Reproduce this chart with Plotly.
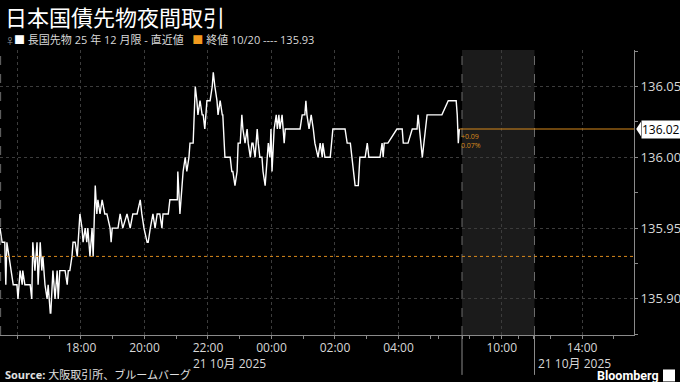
import pandas as pd
import plotly.graph_objects as go

# ---------------- data ----------------
title = "日本国債先物夜間取引"
series_label = "長国先物 25 年 12 月限 - 直近値"
prev_close_label = "終値 10/20 ---- 135.93"
prev_close = 135.93
session_start = "2025-10-20 15:27"

minutes = [0, 4, 9, 11, 13, 17, 25, 32, 34, 38, 42, 43, 47, 57, 60, 62, 66, 70, 72, 76,
           79, 81, 85, 89, 91, 95, 96, 100, 104, 108, 110, 113, 123, 127, 129, 132, 136, 138, 142, 146,
           151, 155, 157, 161, 164, 166, 170, 174, 176, 180, 183, 185, 189, 193, 198, 202, 208, 210, 212, 223,
           227, 232, 240, 246, 251, 259, 265, 268, 272, 278, 280, 284, 289, 293, 297, 302, 306, 308, 318, 321,
           331, 335, 336, 340, 344, 346, 350, 353, 357, 359, 365, 369, 372, 374, 378, 382, 384, 387, 391, 397,
           401, 403, 406, 410, 412, 416, 420, 421, 425, 431, 435, 438, 440, 444, 448, 450, 454, 457, 459, 463,
           467, 469, 473, 476, 478, 482, 486, 488, 491, 495, 497, 501, 507, 510, 512, 514, 518, 522, 524, 527,
           529, 533, 535, 537, 539, 567, 571, 576, 578, 580, 584, 588, 592, 595, 601, 605, 609, 610, 614, 624,
           629, 652, 656, 662, 671, 677, 680, 686, 690, 694, 697, 718, 722, 724, 726, 733, 750, 760, 762, 771,
           779, 788, 790, 798, 807, 835, 847, 862, 864, 866, 868]

prices = [135.95, 135.94, 135.94, 135.91, 135.94, 135.93, 135.91, 135.91, 135.90, 135.92,
          135.91, 135.92, 135.91, 135.91, 135.90, 135.94, 135.92, 135.94, 135.91, 135.94,
          135.92, 135.93, 135.91, 135.90, 135.91, 135.89, 135.89, 135.92, 135.90, 135.92,
          135.90, 135.92, 135.92, 135.91, 135.92, 135.92, 135.93, 135.94, 135.94, 135.93,
          135.96, 135.95, 135.94, 135.95, 135.94, 135.95, 135.93, 135.95, 135.93, 135.98,
          135.96, 135.97, 135.96, 135.97, 135.96, 135.96, 135.95, 135.94, 135.95, 135.95,
          135.96, 135.95, 135.96, 135.95, 135.96, 135.96, 135.97, 135.96, 135.95, 135.94,
          135.94, 135.95, 135.96, 135.95, 135.96, 135.96, 135.95, 135.96, 135.96, 135.97,
          135.97, 135.97, 135.99, 135.96, 135.98, 135.99, 136.00, 135.99, 136.00, 136.01,
          136.01, 136.05, 136.04, 136.03, 136.04, 136.03, 136.03, 136.02, 136.04, 136.04,
          136.05, 136.06, 136.05, 136.04, 136.03, 136.04, 136.03, 136.03, 136.00, 136.00,
          136.00, 135.99, 135.99, 135.98, 135.99, 136.01, 136.01, 136.03, 136.02, 136.01,
          136.02, 136.01, 136.00, 136.01, 136.01, 136.00, 136.02, 136.01, 136.00, 136.00,
          135.99, 135.98, 136.01, 136.00, 136.02, 135.99, 136.02, 136.03, 136.02, 136.03,
          136.02, 136.03, 136.02, 136.01, 136.02, 136.02, 136.03, 136.03, 136.04, 136.03,
          136.02, 136.03, 136.02, 136.01, 136.00, 136.01, 136.00, 136.01, 136.00, 136.00,
          136.02, 136.02, 136.01, 136.01, 135.98, 135.98, 136.00, 136.00, 136.00, 136.01,
          136.00, 136.00, 136.01, 136.00, 136.01, 136.01, 136.02, 136.02, 136.01, 136.01,
          136.02, 136.02, 136.03, 136.00, 136.03, 136.03, 136.04, 136.04, 136.03, 136.01,
          136.02]

tick_times = ["2025-10-20 16:00", "2025-10-20 18:00", "2025-10-20 20:00", "2025-10-20 22:00",
              "2025-10-21 00:00", "2025-10-21 02:00", "2025-10-21 04:00",
              "2025-10-21 10:00", "2025-10-21 14:00"]
tick_labels = ["", "18:00", "20:00", "22:00", "00:00", "02:00", "04:00", "10:00", "14:00"]
date_label = "21 10月 2025"
y_ticks = [135.90, 135.95, 136.00, 136.05]
x_range = ["2025-10-20 15:27", "2025-10-21 15:38"]
y_range = [135.8745, 136.0758]
night_end = "2025-10-21 06:00"
day_start = "2025-10-21 08:45"
morning_end = "2025-10-21 11:02"
afternoon_start = "2025-10-21 12:30"
source_text = "<b>Source:</b> 大阪取引所、ブルームバーグ"

# ---------------- figure ----------------
BG = "#000000"
ORANGE = "#d8891c"
GRID = "#3c3c3c"
AXIS = "#8a8a8a"
TXT = "#d8d8d8"
FONT = "Open Sans, Noto Sans CJK JP, sans-serif"

times = pd.Timestamp(session_start) + pd.to_timedelta(minutes, unit="min")
last_val = prices[-1]
chg = last_val - prev_close
pct = chg / prev_close * 100

fig = go.Figure()

# shaded morning session
fig.add_shape(type="rect", xref="x", yref="paper", x0=day_start, x1=morning_end, y0=0, y1=1,
              fillcolor="#1b1b1b", line_width=0, layer="below")
for xv in [day_start, morning_end]:
    fig.add_shape(type="line", xref="x", yref="paper", x0=xv, x1=xv, y0=0, y1=1,
                  line=dict(color="#6a6a6a", width=1, dash="dash"), layer="below")
    fig.add_shape(type="line", xref="x", yref="paper", x0=xv, x1=xv, y0=0, y1=-0.14,
                  line=dict(color=AXIS, width=1))
# left dashed border
fig.add_shape(type="line", xref="paper", yref="paper", x0=0.001, x1=0.001, y0=0, y1=1,
              line=dict(color="#6a6a6a", width=1, dash="dash"))

# previous close dotted line
fig.add_shape(type="line", xref="paper", yref="y", x0=0, x1=1, y0=prev_close, y1=prev_close,
              line=dict(color=ORANGE, width=1, dash="dot"))

# price line
fig.add_trace(go.Scatter(x=times, y=prices, mode="lines",
                         line=dict(color="#ffffff", width=1.4), hoverinfo="skip"))
# last value line
fig.add_trace(go.Scatter(x=[times[-1], pd.Timestamp(x_range[1])], y=[last_val, last_val],
                         mode="lines", line=dict(color=ORANGE, width=1.2), hoverinfo="skip"))

fig.update_layout(
    width=680, height=382,
    margin=dict(l=0, r=46, t=50, b=47),
    paper_bgcolor=BG, plot_bgcolor=BG,
    showlegend=False,
    font=dict(family=FONT, color=TXT),
    xaxis=dict(
        type="date", range=x_range,
        rangebreaks=[dict(values=[night_end], dvalue=(pd.Timestamp(day_start) - pd.Timestamp(night_end)).total_seconds() * 1000),
                     dict(values=[morning_end], dvalue=(pd.Timestamp(afternoon_start) - pd.Timestamp(morning_end)).total_seconds() * 1000)],
        tickmode="array", tickvals=tick_times, ticktext=tick_labels,
        showgrid=True, gridcolor=GRID, griddash="dot", gridwidth=1,
        showline=True, linecolor=AXIS, linewidth=1,
        ticks="outside", ticklen=2, tickcolor=AXIS,
        minor=dict(ticks="outside", ticklen=3, tickcolor=AXIS, dtick=3600000,
                   tick0="2025-10-20 00:00", showgrid=False),
        tickfont=dict(size=12, color=TXT, family=FONT),
        zeroline=False, fixedrange=True,
    ),
    yaxis=dict(
        side="right", range=y_range,
        tickmode="array", tickvals=y_ticks, ticktext=[f"{v:.2f}" for v in y_ticks],
        showgrid=True, gridcolor=GRID, griddash="dot", gridwidth=1,
        showline=True, linecolor=AXIS, linewidth=1,
        ticks="outside", ticklen=3, tickcolor=AXIS,
        minor=dict(ticks="outside", ticklen=3, tickcolor=AXIS, tickmode="array",
                   tickvals=[v + 0.025 for v in y_ticks] + [y_ticks[0] - 0.025], showgrid=False),
        tickfont=dict(size=13, color=TXT, family=FONT),
        zeroline=False, fixedrange=True,
    ),
)

# last value label on axis (white tag)
fig.add_annotation(xref="paper", yref="y", x=1.0105, y=last_val, xanchor="left", yanchor="middle",
                   text=f"{last_val:.2f}", showarrow=False, bgcolor="#ffffff",
                   font=dict(size=12, color="#000000", family=FONT), borderpad=0)
h = 0.0052
fig.add_shape(type="path", xref="paper", yref="y",
              path=f"M 1.011 {last_val + h} L 1.0035 {last_val} L 1.011 {last_val - h} Z",
              fillcolor="#ffffff", line_width=0)

# change annotations
fig.add_annotation(xref="x", yref="y", x=times[-1], y=last_val, xanchor="left", yanchor="top",
                   text=f"+{chg:.2f}<br>{pct:.2f}%", showarrow=False, align="left",
                   font=dict(size=7, color=ORANGE, family=FONT), yshift=-1)

# title and legend
fig.add_annotation(xref="paper", yref="paper", x=0.005, y=1.118, xanchor="left", yanchor="middle",
                   text=title, showarrow=False,
                   font=dict(size=22, color="#ffffff", family="Noto Sans CJK JP"))
fig.add_annotation(xref="paper", yref="paper", x=0.006, y=1.036, xanchor="left", yanchor="middle",
                   text="<span style='color:#9a9a9a;font-size:8px'>♀</span><span style='color:#ffffff'>■</span> "
                        f"{series_label}   <span style='color:#f29a1e'>■</span> {prev_close_label}",
                   showarrow=False, font=dict(size=11, color=TXT, family=FONT))

# date labels
fig.add_annotation(xref="x", yref="paper", x=tick_times[3], y=-0.1, xanchor="left", yanchor="middle",
                   xshift=-17, text=date_label, showarrow=False,
                   font=dict(size=12, color=TXT, family=FONT))
fig.add_annotation(xref="x", yref="paper", x=morning_end, y=-0.1, xanchor="left", yanchor="middle",
                   xshift=1, text=date_label, showarrow=False,
                   font=dict(size=12, color=TXT, family=FONT))

# source and brand
fig.add_annotation(xref="paper", yref="paper", x=0.005, y=-0.14, xanchor="left", yanchor="middle",
                   text=source_text, showarrow=False, font=dict(size=11, color="#e0e0e0", family=FONT))
fig.add_annotation(xref="paper", yref="paper", x=1.042, y=-0.142, xanchor="right", yanchor="middle",
                   text="<b>Bloomberg</b>", showarrow=False,
                   font=dict(size=12.5, color="#ffffff", family="Roboto, Open Sans, sans-serif"))
fig.add_shape(type="rect", xref="paper", yref="paper", x0=1.0457, x1=1.0647, y0=-0.163, y1=-0.121,
              fillcolor="#ffffff", line_width=0)

fig.write_html("out.html")
